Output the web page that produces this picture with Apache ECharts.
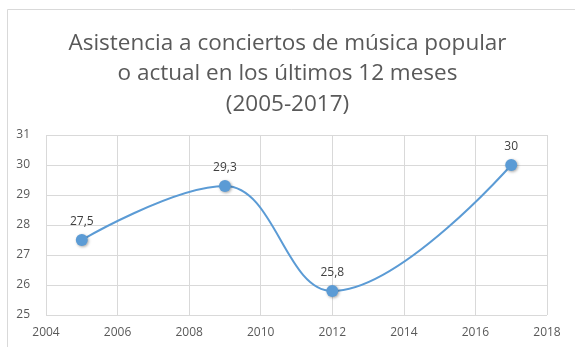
<!DOCTYPE html>
<html><head><meta charset="utf-8">
<script src="https://cdn.jsdelivr.net/npm/echarts@6/dist/echarts.min.js"></script>
<style>html,body{margin:0;padding:0;background:#fff}#c{width:575px;height:347px}</style>
</head><body><div id="c"></div>
<script>
const titleLines = ["Asistencia a conciertos de música popular", "o actual en los últimos 12 meses", "(2005-2017)"];
const years = [2005, 2009, 2012, 2017];
const values = [27.5, 29.3, 25.8, 30];
const labels = ["27,5", "29,3", "25,8", "30"];
const xTicks = [2004, 2006, 2008, 2010, 2012, 2014, 2016, 2018];
const yTicks = [25, 26, 27, 28, 29, 30, 31];

const chart = echarts.init(document.getElementById('c'), null, {renderer: 'canvas'});
const font = 'Open Sans, Liberation Sans, sans-serif';
chart.setOption({
  animation: false,
  backgroundColor: '#fff',
  graphic: [{
    type: 'polyline', shape: {points: [[7.5, 360], [7.5, 9.5], [580, 9.5]]},
    style: {stroke: '#d9d9d9', lineWidth: 1, fill: null}, silent: true
  }],
  title: {
    text: titleLines.join('\n'), left: 'center', top: 23,
    textStyle: {fontFamily: font, fontSize: 22.5, fontWeight: 'normal', color: '#595959', lineHeight: 30.5}
  },
  grid: {left: 46, right: 28, top: 135, bottom: 32},
  xAxis: {
    type: 'value', min: xTicks[0], max: xTicks[xTicks.length - 1], interval: 2,
    axisLine: {show: false}, axisTick: {show: false},
    splitLine: {show: true, lineStyle: {color: '#d9d9d9'}},
    axisLabel: {color: '#595959', fontFamily: font, fontSize: 12, margin: 12, formatter: v => String(v)}
  },
  yAxis: {
    type: 'value', min: yTicks[0], max: yTicks[yTicks.length - 1], interval: 1,
    axisLine: {show: false}, axisTick: {show: false},
    splitLine: {show: true, lineStyle: {color: '#d9d9d9'}},
    axisLabel: {color: '#595959', fontFamily: font, fontSize: 12, margin: 16}
  },
  series: [{
    type: 'line', smooth: 0.4,
    data: years.map((y, i) => [y, values[i]]),
    lineStyle: {color: '#5b9bd5', width: 2},
    itemStyle: {color: '#5b9bd5', shadowColor: 'rgba(0,0,0,0.35)', shadowBlur: 3, shadowOffsetX: 1, shadowOffsetY: 1},
    symbol: 'circle', symbolSize: 12,
    label: {show: true, position: 'top', distance: 6, color: '#404040', fontFamily: font, fontSize: 12,
      formatter: p => labels[p.dataIndex]}
  }]
});
</script></body></html>
